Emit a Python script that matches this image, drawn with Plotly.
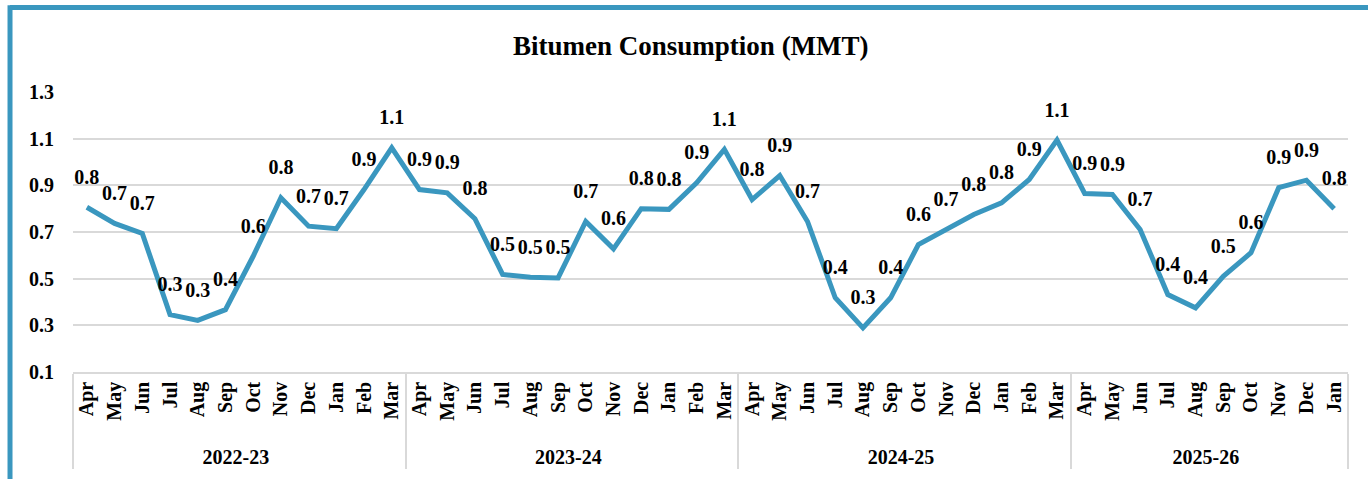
import plotly.graph_objects as go

# ---- data ----
months_full = ["Apr", "May", "Jun", "Jul", "Aug", "Sep", "Oct", "Nov", "Dec", "Jan", "Feb", "Mar"]
fiscal_years = ["2022-23", "2023-24", "2024-25", "2025-26"]
fy2223 = [0.806, 0.737, 0.694, 0.346, 0.321, 0.367, 0.596, 0.847, 0.725, 0.714, 0.882, 1.061]
fy2324 = [0.882, 0.868, 0.757, 0.518, 0.506, 0.503, 0.745, 0.628, 0.800, 0.797, 0.911, 1.054]
fy2425 = [0.839, 0.942, 0.745, 0.418, 0.289, 0.418, 0.646, 0.711, 0.775, 0.825, 0.925, 1.094]
fy2526 = [0.865, 0.861, 0.711, 0.432, 0.375, 0.510, 0.611, 0.890, 0.922, 0.800]
series = [fy2223, fy2324, fy2425, fy2526]
y_ticks = [0.1, 0.3, 0.5, 0.7, 0.9, 1.1, 1.3]

PAD = "\u00a0"  # spacing below the rotated month labels

xs_year, xs_month, ys = [], [], []
for fy, vals in zip(fiscal_years, series):
    for m, v in zip(months_full, vals):
        xs_year.append(fy)
        xs_month.append(PAD + m)
        ys.append(v)

LINE = "#3A97BF"
GRID = "#D9D9D9"
FONT = "Liberation Serif"

fig = go.Figure()
fig.add_trace(go.Scatter(
    x=[xs_year, xs_month], y=ys, mode="lines",
    line=dict(color=LINE, width=5), hoverinfo="skip", showlegend=False,
))
fig.add_trace(go.Scatter(
    x=[xs_year, xs_month], y=ys, mode="markers+text",
    marker=dict(size=28, color="rgba(0,0,0,0)"),
    text=[f"{v:.1f}" for v in ys], textposition="top center",
    textfont=dict(family=FONT, size=20, color="#000000", weight="bold"),
    hoverinfo="skip", showlegend=False, cliponaxis=False,
))

n = len(ys)
fig.update_layout(
    width=1368, height=479,
    margin=dict(l=73, r=20, t=92, b=107),
    paper_bgcolor="white", plot_bgcolor="white",
    title=dict(text="<b>Bitumen Consumption (MMT)</b>", x=0.505, xanchor="center",
               y=0.905, yanchor="middle",
               font=dict(family=FONT, size=27, color="#000000")),
    xaxis=dict(
        type="multicategory", tickangle=-90, showgrid=False, automargin=False,
        range=[-0.5, n - 0.5], autorange=False,
        showline=True, linecolor=GRID, linewidth=1.5, ticks="",
        showdividers=True, dividercolor=GRID, dividerwidth=1.5,
        tickfont=dict(family=FONT, size=20, color="#000000", weight="bold"),
    ),
    yaxis=dict(
        range=[0.1, 1.3], tickvals=y_ticks, ticktext=[f"{t:.1f}" for t in y_ticks],
        showgrid=True, gridcolor=GRID, gridwidth=1.5, zeroline=False, showline=False,
        ticks="", ticklabelstandoff=18, automargin=False,
        tickfont=dict(family=FONT, size=20, color="#000000", weight="bold"),
    ),
    shapes=[
        dict(type="line", xref="paper", yref="paper", x0=-0.0494, x1=1.1, y0=1.3015, y1=1.3015,
             line=dict(color=LINE, width=5)),
        dict(type="line", xref="paper", yref="paper", x0=-0.0494, x1=-0.0494, y0=1.31, y1=-0.5,
             line=dict(color=LINE, width=5)),
    ],
)

fig.write_html("out.html", config={"displayModeBar": False},
               post_script="document.body.style.margin='0';")
